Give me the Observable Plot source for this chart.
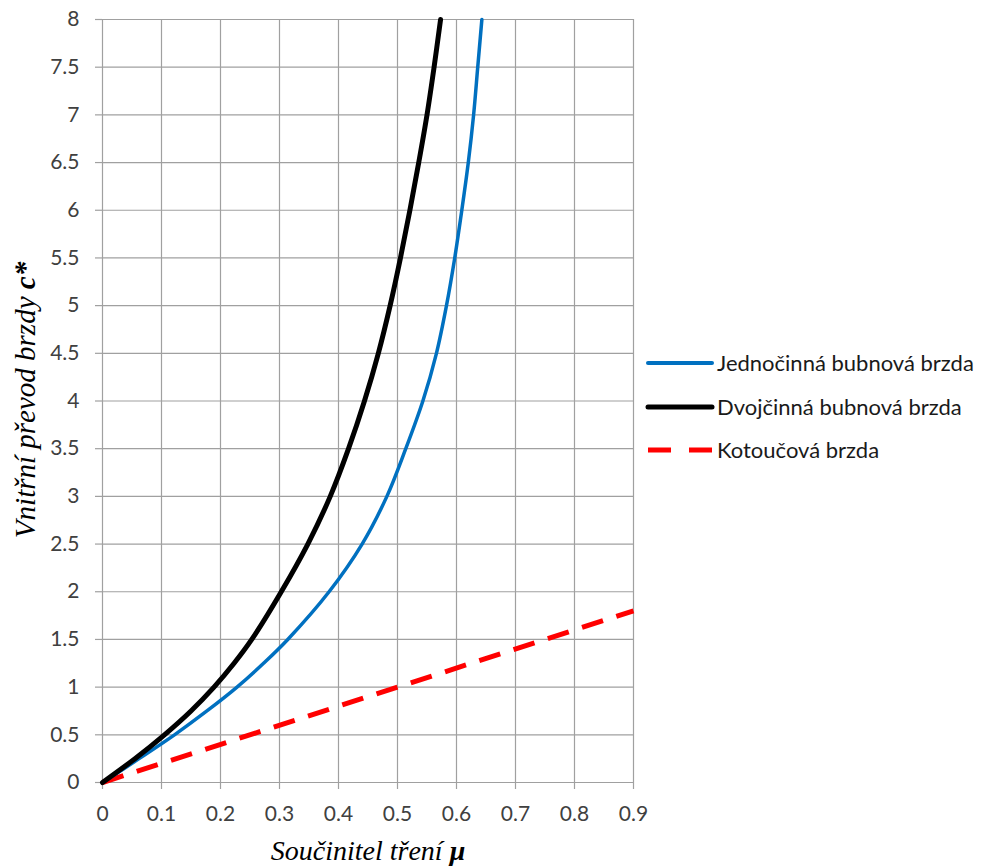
<!DOCTYPE html>
<html>
<head>
<meta charset="utf-8">
<script src="https://cdn.jsdelivr.net/npm/d3@7"></script>
<script src="https://cdn.jsdelivr.net/npm/@observablehq/plot@0.6"></script>
<style>
  html, body { margin: 0; padding: 0; background: #fff; }
  #chart { position: relative; width: 987px; height: 866px; }
</style>
</head>
<body>
<div id="chart"></div>
<script>
// Jednočinná bubnová brzda (blue)
const blueMu = [0, 0.062, 0.122, 0.177, 0.228, 0.273, 0.314, 0.384, 0.44, 0.482, 0.514, 0.543, 0.566, 0.583, 0.597, 0.609, 0.62, 0.629, 0.636, 0.643];
const blueC  = [0, 0.25, 0.5, 0.75, 1.0, 1.25, 1.5, 2.0, 2.5, 3.0, 3.5, 4.0, 4.5, 5.0, 5.5, 6.0, 6.5, 7.0, 7.5, 8.0];
// Dvojčinná bubnová brzda (black)
const blackMu = [0, 0.055, 0.105, 0.15, 0.189, 0.223, 0.253, 0.303, 0.348, 0.386, 0.417, 0.444, 0.4675, 0.4875, 0.505, 0.521, 0.536, 0.55, 0.562, 0.573];
const blackC  = [0, 0.25, 0.5, 0.75, 1.0, 1.25, 1.5, 2.0, 2.5, 3.0, 3.5, 4.0, 4.5, 5.0, 5.5, 6.0, 6.5, 7.0, 7.5, 8.0];
// Kotoučová brzda (red dashed)
const redMu = [0, 0.9];
const redC  = [0, 1.8];

const xTicks = [0, 0.1, 0.2, 0.3, 0.4, 0.5, 0.6, 0.7, 0.8, 0.9];
const yTicks = [0, 0.5, 1, 1.5, 2, 2.5, 3, 3.5, 4, 4.5, 5, 5.5, 6, 6.5, 7, 7.5, 8];

const seriesNames = ["Jednočinná bubnová brzda", "Dvojčinná bubnová brzda", "Kotoučová brzda"];
const seriesColors = ["#0070C0", "#000000", "#FF0000"];

const blue = blueMu.map((m, i) => ({mu: m, c: blueC[i]}));
const black = blackMu.map((m, i) => ({mu: m, c: blackC[i]}));
const red = redMu.map((m, i) => ({mu: m, c: redC[i]}));

const gridColor = "#a0a0a0";
const textColor = "#404040";

const svg = Plot.plot({
  width: 987,
  height: 866,
  marginLeft: 102,
  marginRight: 354,
  marginTop: 19,
  marginBottom: 84,
  style: {fontFamily: "Lato", fontSize: "21px", background: "#fff"},
  x: {domain: [0, 0.9]},
  y: {domain: [0, 8]},
  marks: [
    Plot.gridX(xTicks, {stroke: gridColor, strokeOpacity: 1, strokeWidth: 1.2}),
    Plot.gridY(yTicks, {stroke: gridColor, strokeOpacity: 1, strokeWidth: 1.2}),
    Plot.axisX(xTicks, {tickSize: 7, tickPadding: 17, stroke: gridColor, strokeWidth: 1.2, fill: textColor, tickFormat: d => String(d), label: null}),
    Plot.axisY(yTicks, {tickSize: 7, tickPadding: 16, stroke: gridColor, strokeWidth: 1.2, fill: textColor, tickFormat: d => String(d), label: null}),
    Plot.line(red, {x: "mu", y: "c", stroke: seriesColors[2], strokeWidth: 5, strokeDasharray: "22,14", strokeLinecap: "butt"}),
    Plot.line(blue, {x: "mu", y: "c", stroke: seriesColors[0], strokeWidth: 3.5, curve: "catmull-rom"}),
    Plot.line(black, {x: "mu", y: "c", stroke: seriesColors[1], strokeWidth: 5, curve: "catmull-rom"})
  ]
});

document.getElementById("chart").appendChild(svg);

const s = d3.select(svg);
const serif = "'Liberation Serif', 'Times New Roman', serif";

// Y axis title
const yt = s.append("text")
  .attr("transform", "translate(35,400) rotate(-90)")
  .attr("text-anchor", "middle")
  .attr("font-family", serif)
  .attr("font-size", 29)
  .attr("font-style", "italic")
  .attr("fill", "#000");
yt.append("tspan").text("Vnitřní převod brzdy ");
yt.append("tspan").attr("font-weight", "bold").text("c*");

// X axis title
const xt = s.append("text")
  .attr("x", 368)
  .attr("y", 860)
  .attr("text-anchor", "middle")
  .attr("font-family", serif)
  .attr("font-size", 28)
  .attr("font-style", "italic")
  .attr("fill", "#000");
xt.append("tspan").text("Součinitel tření ");
xt.append("tspan").attr("font-weight", "bold").text("μ");

// Legend
const legendRows = [363, 407, 450];
const widths = [4, 5, 5];
const dashes = [null, null, "23,18"];
const lg = s.append("g");
seriesNames.forEach((name, i) => {
  const y = legendRows[i];
  const l = lg.append("line")
    .attr("x1", 648).attr("x2", 712).attr("y1", y).attr("y2", y)
    .attr("stroke", seriesColors[i]).attr("stroke-width", widths[i])
    .attr("stroke-linecap", dashes[i] ? "butt" : "round");
  if (dashes[i]) l.attr("stroke-dasharray", dashes[i]);
  lg.append("text")
    .attr("x", 717).attr("y", y)
    .attr("dy", "0.35em")
    .attr("text-anchor", "start")
    .attr("font-family", "Lato")
    .attr("font-size", 22)
    .attr("fill", "#1a1a1a")
    .text(name);
});
</script>
</body>
</html>
